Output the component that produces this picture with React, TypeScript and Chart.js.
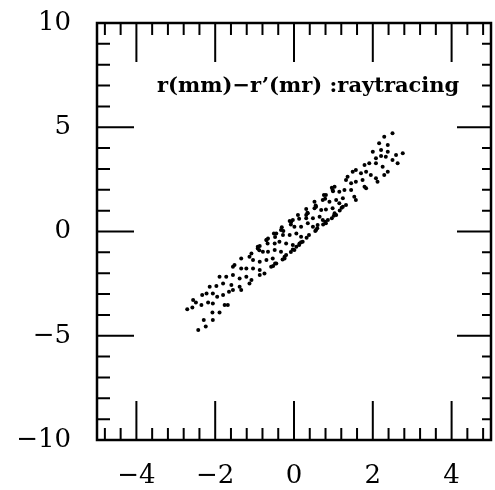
import React, { useEffect, useRef } from 'react';
import { Chart, registerables } from 'chart.js';

Chart.register(...registerables);

const X_TICKS = [-4, -2, 0, 2, 4];
const Y_TICKS = [-10, -5, 0, 5, 10];
const X_MIN = -5;
const X_MAX = 5;
const Y_MIN = -10;
const Y_MAX = 10;
const TITLE = 'r(mm)\u2212r\u2019(mr) :raytracing';

// [x, y] samples
const RAY_POINTS: [number, number][] = [
  [-2.43, -4.72], [-2.24, -4.56], [-2.29, -4.24], [-2.06, -4.24], [-2.07, -3.89],
  [-1.89, -3.89], [-2.71, -3.73], [-2.58, -3.64], [-2.49, -3.41], [-2.56, -3.29],
  [-2.35, -3.53], [-2.18, -3.41], [-2.06, -3.45], [-1.76, -3.53], [-1.68, -3.53],
  [-2.33, -3.05], [-2.22, -2.97], [-2.06, -2.97], [-1.95, -3.13], [-1.80, -3.05],
  [-1.65, -2.89], [-2.14, -2.65], [-1.97, -2.61], [-1.80, -2.49], [-1.59, -2.57],
  [-1.55, -2.81], [-1.38, -2.65], [-1.34, -2.81], [-1.89, -2.17], [-1.72, -2.17],
  [-1.55, -2.09], [-1.38, -2.25], [-1.21, -2.17], [-1.08, -2.33], [-1.13, -2.49],
  [-1.55, -1.69], [-1.51, -1.61], [-1.34, -1.77], [-1.21, -1.77], [-1.04, -1.77],
  [-0.87, -1.85], [-0.75, -2.01], [-0.87, -2.09], [-1.34, -1.29], [-1.13, -1.21],
  [-1.04, -1.37], [-0.87, -1.45], [-0.70, -1.37], [-0.54, -1.29], [-0.45, -1.53],
  [-0.58, -1.69], [-1.08, -1.05], [-0.92, -0.81], [-0.87, -0.70], [-0.79, -0.97],
  [-0.66, -0.97], [-0.49, -0.89], [-0.33, -0.97], [-0.20, -1.13], [-0.24, -1.29],
  [-0.70, -0.41], [-0.66, -0.33], [-0.49, -0.57], [-0.37, -0.49], [-0.20, -0.57],
  [-0.03, -0.65], [0.01, -0.89], [0.06, -0.73], [-0.45, -0.09], [-0.33, 0.07],
  [-0.28, -0.17], [-0.11, -0.17], [0.06, -0.09], [0.18, -0.25], [0.22, -0.49],
  [0.14, -0.57], [-0.07, 0.47], [-0.03, 0.55], [0.01, 0.23], [0.18, 0.23],
  [0.35, 0.39], [0.48, 0.23], [0.60, 0.31], [0.56, 0.07], [0.31, 0.79],
  [0.35, 0.87], [0.31, 0.63], [0.48, 0.63], [0.65, 0.71], [0.73, 0.55],
  [0.86, 0.55], [0.81, 0.39], [0.52, 1.11], [0.56, 1.19], [0.69, 1.03],
  [0.81, 1.06], [0.98, 1.11], [1.03, 0.87], [1.07, 0.79], [0.73, 1.51],
  [0.81, 1.75], [0.90, 1.43], [1.07, 1.51], [1.24, 1.59], [1.15, 1.35],
  [1.32, 1.27], [1.24, 1.19], [0.98, 1.99], [1.03, 2.15], [1.15, 1.91],
  [1.28, 1.99], [1.45, 1.99], [1.53, 1.67], [1.57, 1.51], [1.32, 2.47],
  [1.36, 2.63], [1.45, 2.31], [1.57, 2.39], [1.74, 2.47], [1.79, 2.15],
  [1.83, 2.07], [1.49, 2.87], [1.57, 2.95], [1.70, 2.79], [1.83, 2.87],
  [1.95, 2.71], [2.08, 2.55], [2.12, 2.39], [1.79, 3.19], [1.91, 3.27],
  [2.08, 3.27], [2.25, 3.11], [2.38, 2.87], [2.29, 2.71], [2.00, 3.83],
  [2.08, 3.51], [2.21, 3.62], [2.33, 3.59], [2.50, 3.43], [2.63, 3.27],
  [2.59, 3.67], [2.76, 3.75], [2.16, 4.23], [2.38, 4.15], [2.21, 3.91],
  [2.38, 3.83], [2.29, 4.55], [2.50, 4.71],
];

// paired dots along the upper-left edge of the band
const UPPER_EDGE_POINTS: [number, number][] = [
  [-0.92, -0.73], [-0.88, -0.90], [-0.70, -0.41], [-0.67, -0.58],
  [-0.51, -0.09], [-0.48, -0.26], [-0.31, 0.20], [-0.27, 0.02],
  [-0.11, 0.50], [-0.08, 0.33], [0.10, 0.79], [0.13, 0.61],
  [0.31, 1.08], [0.34, 0.90], [0.52, 1.43], [0.55, 1.25],
  [0.76, 1.75], [0.79, 1.57], [0.96, 2.10], [0.99, 1.93],
];

// paired dots along the lower-right edge of the band
const LOWER_EDGE_POINTS: [number, number][] = [
  [-0.48, -1.53], [-0.53, -1.65], [-0.24, -1.21], [-0.29, -1.34],
  [-0.03, -0.86], [-0.08, -0.98], [0.18, -0.52], [0.13, -0.65],
  [0.38, -0.17], [0.32, -0.30], [0.59, 0.15], [0.54, 0.02],
  [0.79, 0.47], [0.74, 0.34], [1.01, 0.76], [0.96, 0.63],
  [1.21, 1.14], [1.16, 1.01],
];

const fmt = (v: number) => (v < 0 ? '\u2212' + Math.abs(v) : String(v));

const framePlugin = {
  id: 'frameTicks',
  afterDatasetsDraw(chart: any) {
    const { ctx, chartArea: a, scales } = chart;
    const xs = scales.x;
    const ys = scales.y;
    ctx.save();
    ctx.strokeStyle = '#000';
    ctx.lineCap = 'butt';
    ctx.lineWidth = 2;
    ctx.beginPath();
    for (let k = -12; k <= 12; k++) {
      const v = k * 0.4;
      const major = k % 5 === 0;
      const px = xs.getPixelForValue(v);
      const len = major ? 39 : 12;
      ctx.moveTo(px, a.top);
      ctx.lineTo(px, a.top + len);
      ctx.moveTo(px, a.bottom);
      ctx.lineTo(px, a.bottom - len);
    }
    for (let k = -9; k <= 9; k++) {
      const major = k % 5 === 0;
      const py = ys.getPixelForValue(k);
      ctx.moveTo(a.left, py);
      ctx.lineTo(a.left + (major ? 37 : 13), py);
      ctx.moveTo(a.right, py);
      ctx.lineTo(a.right - (major ? 34 : 9), py);
    }
    ctx.stroke();
    ctx.lineWidth = 2.5;
    ctx.strokeRect(a.left, a.top, a.right - a.left, a.bottom - a.top);
    ctx.font = 'bold 21px "DejaVu Serif"';
    ctx.fillStyle = '#000';
    ctx.textBaseline = 'alphabetic';
    ctx.textAlign = 'left';
    ctx.fillText(TITLE, a.left + 60, a.top + 69);
    ctx.restore();
  },
};

export default function App() {
  const ref = useRef<HTMLCanvasElement | null>(null);
  useEffect(() => {
    document.body.style.margin = '0';
    const canvas = ref.current;
    if (!canvas) return;
    const tickFont = { family: '"DejaVu Serif"', size: 26 };
    const allPoints = [...RAY_POINTS, ...UPPER_EDGE_POINTS, ...LOWER_EDGE_POINTS];
    const chart = new Chart(canvas, {
      type: 'scatter',
      data: {
        datasets: [
          {
            data: allPoints.map(([x, y]) => ({ x, y })),
            pointRadius: 2,
            pointBackgroundColor: '#000',
            pointBorderWidth: 0,
            showLine: false,
          },
        ],
      },
      options: {
        responsive: false,
        animation: false,
        layout: { padding: { top: 23, right: 3, left: 0, bottom: 0 } },
        plugins: { legend: { display: false }, tooltip: { enabled: false } },
        scales: {
          x: {
            type: 'linear',
            min: X_MIN,
            max: X_MAX,
            grid: { display: false },
            border: { display: false },
            afterBuildTicks: (s: any) => {
              s.ticks = X_TICKS.map((v) => ({ value: v }));
            },
            afterFit: (s: any) => {
              s.height = 50;
              s.paddingLeft = 0;
              s.paddingRight = 0;
            },
            ticks: {
              color: '#000',
              font: tickFont,
              padding: 13,
              maxRotation: 0,
              autoSkip: false,
              callback: (v: any) => fmt(Number(v)),
            },
          },
          y: {
            type: 'linear',
            min: Y_MIN,
            max: Y_MAX,
            grid: { display: false },
            border: { display: false },
            afterBuildTicks: (s: any) => {
              s.ticks = Y_TICKS.map((v) => ({ value: v }));
            },
            afterFit: (s: any) => {
              s.width = 97;
              s.paddingTop = 0;
              s.paddingBottom = 0;
            },
            ticks: {
              color: '#000',
              font: tickFont,
              padding: 18,
              autoSkip: false,
              callback: (v: any) => fmt(Number(v)),
            },
          },
        },
      },
      plugins: [framePlugin],
    });
    return () => chart.destroy();
  }, []);
  return (
    <div style={{ width: 495, height: 490, background: '#fff' }}>
      <canvas ref={ref} width={495} height={490} style={{ display: 'block' }} />
    </div>
  );
}
